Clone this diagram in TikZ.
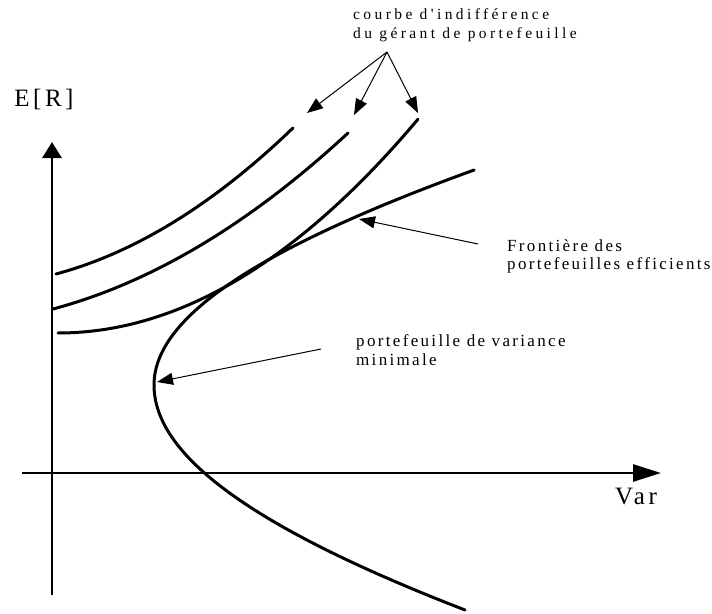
\documentclass[tikz,border=0pt]{standalone}
\usepackage{fontspec}
\setmainfont{Liberation Serif}
\newfontfamily\spacedfont[LetterSpace=13.7, Ligatures=TeXOff]{Liberation Serif}
\newfontfamily\widefont[LetterSpace=22, Ligatures=TeXOff]{Liberation Serif}
\newfontfamily\axisfont[LetterSpace=14]{Liberation Serif}
\usepackage{tikz}
\usetikzlibrary{arrows.meta, positioning}

\begin{document}
\begin{tikzpicture}[
  x=1pt, y=-1pt,
  axis/.style={line width=2.8pt},
  curve/.style={line width=3pt, line cap=round},
  pointer/.style={-{Triangle[length=16pt, width=12pt]}, line width=1pt},
  lab/.style={font=\fontsize{17}{18.5}\selectfont\spacedfont, align=left,
              inner sep=0pt, anchor=north west},
  widelab/.style={lab, font=\fontsize{15.5}{18.7}\selectfont\widefont},
  axlab/.style={font=\fontsize{25}{30}\selectfont\axisfont, inner sep=0pt}
]
  \useasboundingbox (0,0) rectangle (712,613);

  % axes
  \coordinate (ybot) at (52,595);
  \coordinate (ytop) at (52,142);
  \coordinate (xleft) at (22,473);
  \coordinate (xright) at (661,473);
  \draw[axis, -{Triangle[length=16pt, width=19pt]}] (ybot) -- (ytop);
  \draw[axis, -{Triangle[length=28pt, width=17pt]}] (xleft) -- (xright);
  \node[axlab] (er) at (44,99) {E[R]};
  \node[axlab] (var) at (636,496) {Var};

  % indifference curves
  \draw[curve] plot[domain=56:293, samples=50] (\x, {274-0.2685*(\x-56)-14.67*((\x-56)/100)^2});
  \draw[curve] plot[domain=53:348, samples=50] (\x, {309-0.267*(\x-53)-11.17*((\x-53)/100)^2});
  \draw[curve] plot[domain=58:418, samples=60] (\x, {333-16.5*((\x-58)/100)^2});

  % efficient frontier
  \draw[curve]
    plot[domain=-215:0, samples=60, variable=\t]
      ({154+1844*((\t/350)^2)/(sqrt(1+(\t/350)^2)+1)}, {385+\t})
    -- plot[domain=0:225, samples=60, variable=\t]
      ({154+2111*((\t/400)^2)/(sqrt(1+(\t/400)^2)+1)}, {385+\t});

  % labels
  \node[widelab] (indiff) at (353,8.4) {courbe d'indifférence\\du gérant de portefeuille};
  \node[lab] (front) at (507,239.4) {Frontière des\\portefeuilles efficients};
  \node[lab] (minvar) at (356,334.4) {portefeuille de variance\\minimale};

  % pointers
  \coordinate (fan) at (387,52);
  \coordinate (tipA) at (307,113);
  \coordinate (tipB) at (354,115);
  \coordinate (tipC) at (418,113);
  \draw[pointer] (fan) -- (tipA);
  \draw[pointer] (fan) -- (tipB);
  \draw[pointer] (fan) -- (tipC);
  \coordinate (frontfoot) at (478,244);
  \coordinate (fronttip) at (359,219);
  \draw[pointer] (frontfoot) -- (fronttip);
  \coordinate (minfoot) at (321,349);
  \coordinate (mintip) at (157,382);
  \draw[pointer] (minfoot) -- (mintip);
\end{tikzpicture}
\end{document}
